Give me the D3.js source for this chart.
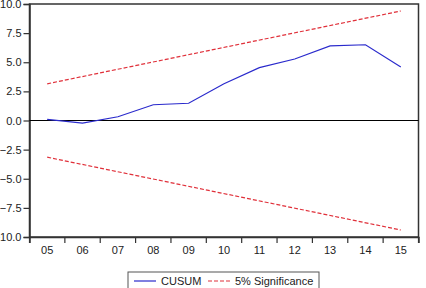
<!DOCTYPE html>
<html>
<head>
<meta charset="utf-8">
<script src="https://cdn.jsdelivr.net/npm/d3@7"></script>
<style>
  body { margin: 0; background: #fff; }
  svg { display: block; font-family: "Liberation Sans", Arial, sans-serif; }
</style>
</head>
<body>
<svg width="426" height="288"></svg>
<script>
// data
const years = ['05', '06', '07', '08', '09', '10', '11', '12', '13', '14', '15'];
const cusum = [0.09, -0.22, 0.32, 1.35, 1.48, 3.15, 4.54, 5.28, 6.4, 6.5, 4.6];
const boundYears = ['05', '15'];
const upperBound = [3.15, 9.4];
const lowerBound = [-3.15, -9.4];
const yTicks = [-10, -7.5, -5, -2.5, 0, 2.5, 5, 7.5, 10];

const svg = d3.select('svg');
const plotL = 29.5, plotR = 418.5, plotT = 4, plotB = 237;

const x = d3.scaleBand().domain(years).range([plotL, plotR]).padding(0);
const y = d3.scaleLinear().domain([-10, 10]).range([plotB, plotT]);
const cx = d => x(d) + x.bandwidth() / 2;

// frame
svg.append('rect')
  .attr('x', plotL).attr('y', plotT)
  .attr('width', plotR - plotL).attr('height', plotB - plotT)
  .attr('fill', 'none').attr('stroke', '#333').attr('stroke-width', 1.5);

// axes
const gY = svg.append('g')
  .attr('transform', `translate(${plotL},0)`)
  .call(d3.axisLeft(y).tickValues(yTicks).tickFormat(d3.format('.1f')).tickSize(6).tickPadding(2));
const gX = svg.append('g')
  .attr('transform', `translate(0,${plotB})`)
  .call(d3.axisBottom(x).tickSize(6).tickPadding(3.5));

gX.selectAll('.tick line').remove();
// tick marks on band edges
gX.selectAll('line.edge')
  .data(years.concat(['end']))
  .enter().append('line')
  .attr('class', 'edge')
  .attr('x1', (d, i) => i < years.length ? x(d) : plotR)
  .attr('x2', (d, i) => i < years.length ? x(d) : plotR)
  .attr('y1', 0).attr('y2', 6)
  .attr('stroke', '#333').attr('stroke-width', 1.2);

[gX, gY].forEach(g => {
  g.select('.domain').attr('stroke', '#333').attr('stroke-width', 1.5);
  g.selectAll('.tick line').attr('stroke', '#333').attr('stroke-width', 1.2);
  g.selectAll('text').attr('font-size', 11).attr('fill', '#222')
    .attr('font-family', '"Liberation Sans", Arial, sans-serif');
});

// zero line
svg.append('line')
  .attr('x1', plotL).attr('x2', plotR)
  .attr('y1', y(0)).attr('y2', y(0))
  .attr('stroke', '#000').attr('stroke-width', 1);

// bounds
const boundLine = d3.line().x(d => cx(d[0])).y(d => y(d[1]));
[upperBound, lowerBound].forEach(b => {
  svg.append('path')
    .attr('d', boundLine(d3.zip(boundYears, b)))
    .attr('fill', 'none')
    .attr('stroke', '#e0303a')
    .attr('stroke-width', 1.2)
    .attr('stroke-dasharray', '4,2');
});

// cusum
const line = d3.line().x((d, i) => cx(years[i])).y(d => y(d));
svg.append('path')
  .attr('d', line(cusum))
  .attr('fill', 'none')
  .attr('stroke', '#2a2acc')
  .attr('stroke-width', 1.2);

// legend
const lg = svg.append('g');
lg.append('rect')
  .attr('x', 128).attr('y', 272).attr('width', 191).attr('height', 22)
  .attr('fill', '#fff').attr('stroke', '#555').attr('stroke-width', 1);
lg.append('line')
  .attr('x1', 134).attr('x2', 156).attr('y1', 281).attr('y2', 281)
  .attr('stroke', '#2a2acc').attr('stroke-width', 1.2);
lg.append('text').attr('x', 161).attr('y', 285)
  .attr('font-size', 11).attr('fill', '#222').text('CUSUM');
lg.append('line')
  .attr('x1', 208).attr('x2', 231).attr('y1', 281).attr('y2', 281)
  .attr('stroke', '#e0303a').attr('stroke-width', 1.2).attr('stroke-dasharray', '4,2');
lg.append('text').attr('x', 235).attr('y', 285)
  .attr('font-size', 11).attr('fill', '#222').text('5% Significance');
</script>
</body>
</html>
